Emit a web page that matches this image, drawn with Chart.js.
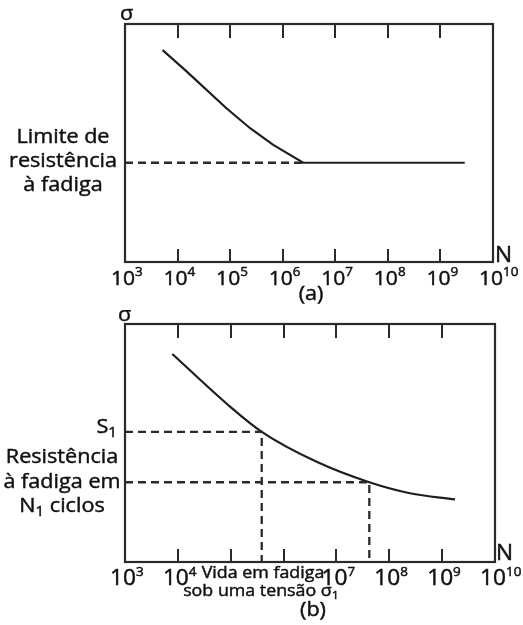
<!DOCTYPE html>
<html>
<head>
<meta charset="utf-8">
<script src="https://cdn.jsdelivr.net/npm/chart.js@4.4.1/dist/chart.umd.min.js"></script>
<style>
  html, body { margin: 0; padding: 0; background: #fff; }
  #wrap { position: relative; width: 523px; height: 625px; }
  #ca { position: absolute; left: 0; top: 0; }
  #cb { position: absolute; left: 0; top: 310px; }
</style>
</head>
<body>
<div id="wrap">
  <canvas id="ca" width="523" height="310"></canvas>
  <canvas id="cb" width="523" height="315"></canvas>
</div>
<script>
// ---------- DATA ----------
// Number of cycles N (log axis) and tick labels
const tickValues = [1e3, 1e4, 1e5, 1e6, 1e7, 1e8, 1e9, 1e10];
const tickExpA   = ['3', '4', '5', '6', '7', '8', '9', '10'];
const tickExpB   = ['3', '4', '', '', '7', '8', '9', '10'];

// Panel (a): S-N curve with endurance limit (stress in arbitrary units 0-100)
const curveA_N     = [5.2e3, 1.5e4, 8.5e4, 2.4e5, 6.6e5, 2.45e6, 2.9e9];
const curveA_sigma = [89, 80, 64.6, 56.2, 49.2, 41.7, 41.7];
const enduranceA   = 41.7;       // "Limite de resistência à fadiga"
const enduranceA_N = 2.45e6;

// Panel (b): S-N curve without endurance limit
const curveB_N     = [7.85e3, 9.7e4, 3.86e5, 4.23e6, 4.19e7, 2.45e8, 1.75e9];
const curveB_sigma = [87.4, 65.3, 54.7, 42.1, 33.5, 28.9, 26.3];
const s1Level  = 54.7;   const s1N  = 3.86e5;   // S1 / fatigue life at sigma1
const n1Level  = 33.5;   const n1N  = 4.19e7;   // fatigue strength at N1 cycles

// ---------- DRAWING HELPERS ----------
const FONT = '"Open Sans", "DejaVu Sans", sans-serif';
const SX = 1.08;            // horizontal stretch of text
const INK = '#111';
const LINE = '#1e1e1e';

function partsWidth(ctx, parts) {
  let w = 0;
  for (const p of parts) { ctx.font = p.size + 'px ' + FONT; w += ctx.measureText(p.t).width * SX; }
  return w;
}
function rich(ctx, parts, x, y, align) {
  const w = partsWidth(ctx, parts);
  let cx = align === 'center' ? x - w / 2 : align === 'right' ? x - w : x;
  ctx.save();
  ctx.fillStyle = INK;
  ctx.strokeStyle = INK;
  ctx.lineWidth = 0.45;
  ctx.textBaseline = 'alphabetic';
  ctx.textAlign = 'left';
  for (const p of parts) {
    ctx.font = p.size + 'px ' + FONT;
    ctx.save();
    ctx.translate(cx, y + (p.dy || 0));
    ctx.scale(SX, 1);
    ctx.fillText(p.t, 0, 0);
    ctx.strokeText(p.t, 0, 0);
    ctx.restore();
    cx += ctx.measureText(p.t).width * SX;
  }
  ctx.restore();
}
function txt(ctx, s, x, y, size, align) { rich(ctx, [{ t: s, size: size }], x, y, align); }

function framePlugin(exps, tickBaseline, tickSize, texts) {
  return {
    id: 'frame',
    afterDraw(chart) {
      const ctx = chart.ctx, a = chart.chartArea, xs = chart.scales.x;
      ctx.save();
      ctx.strokeStyle = '#2a2a2a';
      ctx.lineWidth = 2.2;
      ctx.strokeRect(a.left, a.top, a.right - a.left, a.bottom - a.top);
      // inward ticks top and bottom
      ctx.lineWidth = 2;
      ctx.beginPath();
      tickValues.forEach((v, i) => {
        if (i === 0 || i === tickValues.length - 1) return;
        const px = Math.round(xs.getPixelForValue(v));
        ctx.moveTo(px, a.top); ctx.lineTo(px, a.top + 14);
        ctx.moveTo(px, a.bottom); ctx.lineTo(px, a.bottom - 13);
      });
      ctx.stroke();
      ctx.restore();
      // tick labels 10^n
      tickValues.forEach((v, i) => {
        if (!exps[i]) return;
        const px = xs.getPixelForValue(v);
        ctx.save();
        ctx.font = tickSize + 'px ' + FONT;
        const bw = ctx.measureText('10').width * SX;
        ctx.restore();
        rich(ctx, [{ t: '10', size: tickSize }, { t: exps[i], size: 12.5, dy: -9.5 }], px - 2 - bw / 2, tickBaseline, 'left');
      });
      texts(ctx);
    }
  };
}

function makeChart(id, datasets, pad, plugin) {
  return new Chart(document.getElementById(id), {
    type: 'line',
    data: { datasets: datasets },
    options: {
      responsive: false,
      animation: false,
      events: [],
      layout: { padding: pad },
      plugins: { legend: { display: false }, tooltip: { enabled: false } },
      elements: { point: { radius: 0 } },
      scales: {
        x: { type: 'logarithmic', min: 1e3, max: 1e10, display: false },
        y: { type: 'linear', min: 0, max: 100, display: false }
      }
    },
    plugins: [plugin]
  });
}

const pts = (xs, ys) => xs.map((x, i) => ({ x: x, y: ys[i] }));
const dashStyle = { borderColor: '#2a2a2a', borderWidth: 2.3, borderDash: [8, 5], pointRadius: 0, tension: 0, fill: false };

// ---------- PANEL (a) ----------
makeChart('ca', [
  Object.assign({ data: [{ x: 1e3, y: enduranceA }, { x: enduranceA_N, y: enduranceA }] }, dashStyle),
  { data: pts(curveA_N, curveA_sigma), borderColor: LINE, borderWidth: 2.2, tension: 0, pointRadius: 0, fill: false }
], { left: 125, right: 30, top: 24, bottom: 48 },
framePlugin(tickExpA, 285, 19.5, (ctx) => {
  txt(ctx, 'σ', 120, 20, 20, 'left');
  txt(ctx, 'N', 495, 262, 21, 'left');
  txt(ctx, 'Limite de', 63, 143, 20, 'center');
  txt(ctx, 'resistência', 63, 167, 20, 'center');
  txt(ctx, 'à fadiga', 63, 191, 20, 'center');
  txt(ctx, '(a)', 311, 300, 20, 'center');
}));

// ---------- PANEL (b) ----------
makeChart('cb', [
  Object.assign({ data: [{ x: 1e3, y: s1Level }, { x: s1N, y: s1Level }, { x: s1N, y: 0 }] }, dashStyle),
  Object.assign({ data: [{ x: 1e3, y: n1Level }, { x: n1N, y: n1Level }, { x: n1N, y: 0 }] }, dashStyle),
  { data: pts(curveB_N, curveB_sigma), borderColor: LINE, borderWidth: 2.2, cubicInterpolationMode: 'monotone', pointRadius: 0, fill: false }
], { left: 125, right: 28, top: 14, bottom: 63 },
framePlugin(tickExpB, 275, 21, (ctx) => {
  txt(ctx, 'σ', 118, 11, 20, 'left');
  txt(ctx, 'N', 496, 250, 21, 'left');
  rich(ctx, [{ t: 'S', size: 20 }, { t: '1', size: 14, dy: 4 }], 117, 123, 'right');
  txt(ctx, 'Resistência', 62, 153, 20, 'center');
  txt(ctx, 'à fadiga em', 62, 178, 20, 'center');
  rich(ctx, [{ t: 'N', size: 20 }, { t: '1', size: 14, dy: 4 }, { t: ' ciclos', size: 20 }], 62, 202, 'center');
  txt(ctx, 'Vida em fadiga', 263, 268, 16.5, 'center');
  rich(ctx, [{ t: 'sob uma tensão σ', size: 16.5 }, { t: '1', size: 11.5, dy: 3 }], 261, 286, 'center');
  txt(ctx, '(b)', 313, 306, 20, 'center');
}));
</script>
</body>
</html>
